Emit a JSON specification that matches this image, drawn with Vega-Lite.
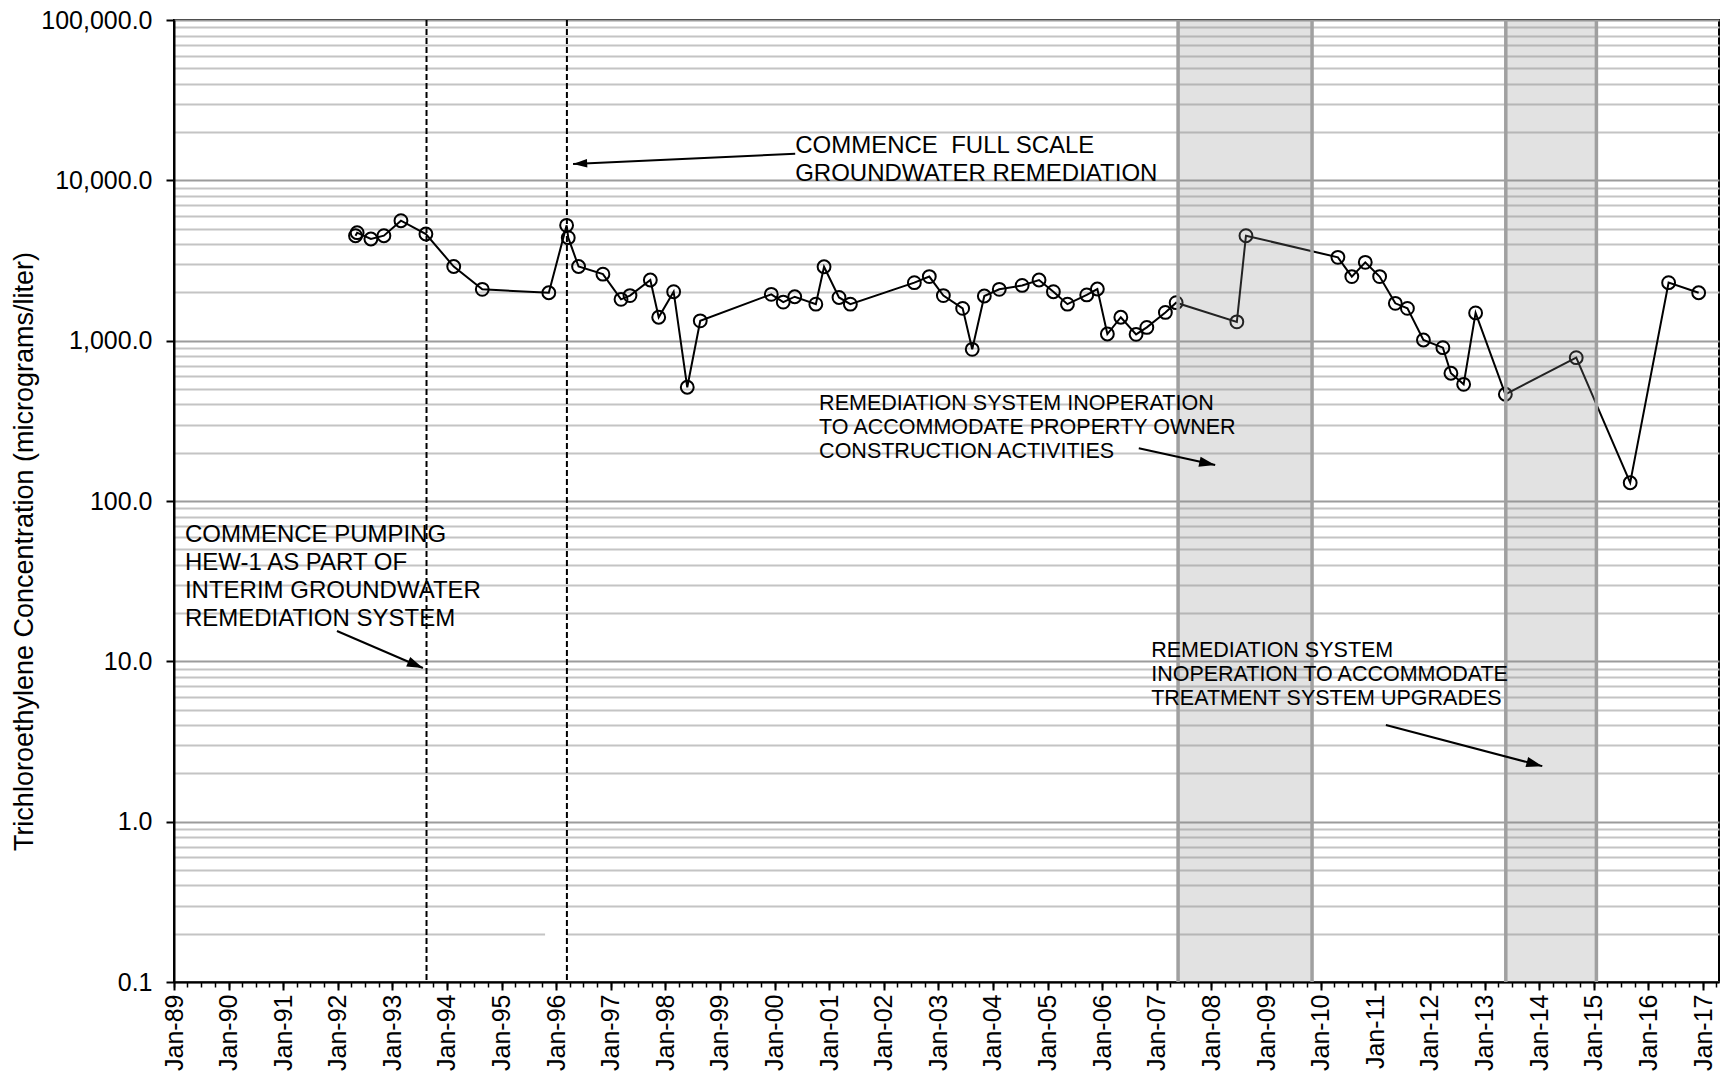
{
  "$schema": "https://vega.github.io/schema/vega-lite/v6.json",
  "width": 1545,
  "height": 962,
  "autosize": {"type": "none"},
  "padding": {"left": 174, "top": 20, "right": 3, "bottom": 102},
  "background": "white",
  "config": {
    "font": "Liberation Sans",
    "view": {"stroke": "black", "strokeWidth": 2},
    "axis": {"labelColor": "black", "titleColor": "black", "labelFont": "Liberation Sans", "titleFont": "Liberation Sans"}
  },
  "datasets": {
    "tce": [
      {"date": "1992-04-29", "tce": 4515},
      {"date": "1992-05-10", "tce": 4715},
      {"date": "1992-08-10", "tce": 4305},
      {"date": "1992-11-05", "tce": 4515},
      {"date": "1993-02-27", "tce": 5600},
      {"date": "1993-08-13", "tce": 4625},
      {"date": "1994-02-15", "tce": 2900},
      {"date": "1994-08-25", "tce": 2090},
      {"date": "1995-11-13", "tce": 1990},
      {"date": "1996-03-11", "tce": 5240},
      {"date": "1996-03-22", "tce": 4390},
      {"date": "1996-05-30", "tce": 2900},
      {"date": "1996-11-09", "tce": 2600},
      {"date": "1997-03-10", "tce": 1810},
      {"date": "1997-05-09", "tce": 1910},
      {"date": "1997-09-22", "tce": 2390},
      {"date": "1997-11-17", "tce": 1400},
      {"date": "1998-02-25", "tce": 2020},
      {"date": "1998-05-27", "tce": 512},
      {"date": "1998-08-22", "tce": 1330},
      {"date": "1999-12-10", "tce": 1945},
      {"date": "2000-02-28", "tce": 1740},
      {"date": "2000-05-15", "tce": 1880},
      {"date": "2000-10-03", "tce": 1690},
      {"date": "2000-11-27", "tce": 2890},
      {"date": "2001-03-07", "tce": 1860},
      {"date": "2001-05-22", "tce": 1690},
      {"date": "2002-07-24", "tce": 2300},
      {"date": "2002-11-01", "tce": 2510},
      {"date": "2003-02-03", "tce": 1910},
      {"date": "2003-06-12", "tce": 1590},
      {"date": "2003-08-15", "tce": 883},
      {"date": "2003-11-04", "tce": 1900},
      {"date": "2004-02-12", "tce": 2090},
      {"date": "2004-07-14", "tce": 2210},
      {"date": "2004-11-04", "tce": 2390},
      {"date": "2005-02-08", "tce": 2020},
      {"date": "2005-05-13", "tce": 1690},
      {"date": "2005-09-19", "tce": 1930},
      {"date": "2005-11-29", "tce": 2100},
      {"date": "2006-02-04", "tce": 1100},
      {"date": "2006-05-05", "tce": 1400},
      {"date": "2006-08-15", "tce": 1095},
      {"date": "2006-10-26", "tce": 1210},
      {"date": "2007-02-27", "tce": 1500},
      {"date": "2007-05-10", "tce": 1725},
      {"date": "2008-06-19", "tce": 1310},
      {"date": "2008-08-19", "tce": 4515},
      {"date": "2010-04-26", "tce": 3310},
      {"date": "2010-07-28", "tce": 2510},
      {"date": "2010-10-26", "tce": 3080},
      {"date": "2011-01-30", "tce": 2510},
      {"date": "2011-05-15", "tce": 1710},
      {"date": "2011-08-04", "tce": 1590},
      {"date": "2011-11-19", "tce": 1010},
      {"date": "2012-03-28", "tce": 904},
      {"date": "2012-05-21", "tce": 626},
      {"date": "2012-08-14", "tce": 534},
      {"date": "2012-11-02", "tce": 1490},
      {"date": "2013-05-20", "tce": 463},
      {"date": "2014-09-06", "tce": 783},
      {"date": "2015-09-02", "tce": 130},
      {"date": "2016-05-16", "tce": 2300},
      {"date": "2016-12-03", "tce": 1990}
    ],
    "dashes": [{"date": "1993-08-17"}, {"date": "1996-03-13"}],
    "shades": [
      {"start": "2007-05-23", "end": "2009-11-04"},
      {"start": "2013-05-23", "end": "2015-01-19"}
    ],
    "patch": [{"x1": "1995-10-19", "x2": "1996-03-12", "y1": 0.165, "y2": 0.21}],
    "arrows": [
      {"id": 1, "x1": "2000-05-18", "y1": 14660, "x2": "1996-04-23", "y2": 12643},
      {"id": 2, "x1": "2006-09-02", "y1": 213, "x2": "2008-01-26", "y2": 167.5},
      {"id": 3, "x1": "1991-12-27", "y1": 15.46, "x2": "1993-07-24", "y2": 9.09},
      {"id": 4, "x1": "2011-03-13", "y1": 4.01, "x2": "2014-01-22", "y2": 2.22}
    ],
    "notesBig": [
      {"date": "2000-05-18", "value": 19450, "label": "COMMENCE\u00a0 FULL SCALE\nGROUNDWATER REMEDIATION"},
      {"date": "1989-03-15", "value": 72.6, "label": "COMMENCE PUMPING\nHEW-1 AS PART OF\nINTERIM GROUNDWATER\nREMEDIATION SYSTEM"}
    ],
    "notesSmall": [
      {"date": "2000-10-25", "value": 472, "label": "REMEDIATION SYSTEM INOPERATION\nTO ACCOMMODATE PROPERTY OWNER\nCONSTRUCTION ACTIVITIES"},
      {"date": "2006-11-24", "value": 13.55, "label": "REMEDIATION SYSTEM\nINOPERATION TO ACCOMMODATE\nTREATMENT SYSTEM UPGRADES"}
    ]
  },
  "resolve": {"axis": {"x": "independent", "y": "independent"}},
  "layer": [
    {
      "data": {"name": "tce"},
      "mark": {"type": "line", "color": "black", "strokeWidth": 2},
      "encoding": {
        "x": {
          "field": "date", "type": "temporal",
          "scale": {"type": "utc", "domain": [{"year": 1989, "month": 1, "date": 1, "utc": true}, {"year": 2017, "month": 4, "date": 18, "utc": true}], "nice": false},
          "axis": {
            "orient": "bottom", "tickCount": {"interval": "year", "step": 1}, "format": "%b-%y",
            "labelAngle": 270, "labelAlign": "right", "labelBaseline": "middle", "labelFontSize": 25,
            "labelPadding": 4, "labelOverlap": false, "labelFlush": false, "labelBound": false,
            "tickColor": "black", "tickSize": 8, "tickWidth": 2,
            "domainColor": "black", "domainWidth": 2, "grid": false, "title": null
          }
        },
        "y": {
          "field": "tce", "type": "quantitative",
          "scale": {"type": "log", "domain": [0.1, 100000], "nice": false},
          "axis": {
            "orient": "left", "values": [0.1, 1, 10, 100, 1000, 10000, 100000], "format": ",.1f",
            "grid": true, "gridColor": "#9c9c9c", "gridWidth": 2,
            "tickColor": "black", "tickSize": 8, "tickWidth": 2,
            "domainColor": "black", "domainWidth": 2,
            "labelFontSize": 25, "labelPadding": 14, "labelBound": false, "labelFlush": false, "labelOverlap": false,
            "title": "Trichloroethylene Concentration (micrograms/liter)",
            "titleFontSize": 27, "titleFontWeight": "normal", "titleAngle": 270,
            "titleX": -150, "titleY": 531, "titleAlign": "center", "titleBaseline": "middle"
          }
        }
      }
    },
    {
      "data": {"name": "tce"},
      "mark": {"type": "point", "shape": "circle", "filled": false, "size": 165, "stroke": "black", "strokeWidth": 2, "opacity": 1},
      "encoding": {
        "x": {
          "field": "date", "type": "temporal",
          "scale": {"type": "utc", "domain": [{"year": 1989, "month": 1, "date": 1, "utc": true}, {"year": 2017, "month": 4, "date": 18, "utc": true}], "nice": false},
          "axis": {"orient": "bottom", "tickCount": {"interval": "month", "step": 3}, "labels": false, "domain": false, "grid": false, "tickSize": 5, "tickWidth": 1.5, "tickColor": "black", "title": null}
        },
        "y": {
          "field": "tce", "type": "quantitative",
          "scale": {"type": "log", "domain": [0.1, 100000], "nice": false},
          "axis": {
            "orient": "left",
            "values": [0.2, 0.3, 0.4, 0.5, 0.6, 0.7, 0.8, 0.9, 2, 3, 4, 5, 6, 7, 8, 9, 20, 30, 40, 50, 60, 70, 80, 90, 200, 300, 400, 500, 600, 700, 800, 900, 2000, 3000, 4000, 5000, 6000, 7000, 8000, 9000, 20000, 30000, 40000, 50000, 60000, 70000, 80000, 90000],
            "grid": true, "gridColor": "#c4c4c4", "gridWidth": 2,
            "labels": false, "ticks": false, "domain": false, "title": null
          }
        }
      }
    },
    {
      "data": {"name": "shades"},
      "mark": {"type": "rect", "fill": "#8c8c8c", "opacity": 0.25},
      "encoding": {
        "x": {"field": "start", "type": "temporal", "axis": null},
        "x2": {"field": "end"}
      }
    },
    {
      "data": {"name": "shades"},
      "mark": {"type": "rule", "color": "#a0a0a0", "strokeWidth": 3.5},
      "encoding": {"x": {"field": "start", "type": "temporal", "axis": null}}
    },
    {
      "data": {"name": "shades"},
      "mark": {"type": "rule", "color": "#a0a0a0", "strokeWidth": 3.5},
      "encoding": {"x": {"field": "end", "type": "temporal", "axis": null}}
    },
    {
      "data": {"name": "patch"},
      "mark": {"type": "rect", "fill": "white"},
      "encoding": {
        "x": {"field": "x1", "type": "temporal", "axis": null},
        "x2": {"field": "x2"},
        "y": {"field": "y1", "type": "quantitative", "axis": null},
        "y2": {"field": "y2"}
      }
    },
    {
      "data": {"name": "dashes"},
      "mark": {"type": "rule", "color": "black", "strokeWidth": 2, "strokeDash": [6, 3]},
      "encoding": {"x": {"field": "date", "type": "temporal", "axis": null}}
    },
    {
      "data": {"name": "arrows"},
      "mark": {"type": "rule", "color": "black", "strokeWidth": 2},
      "encoding": {
        "x": {"field": "x1", "type": "temporal", "axis": null},
        "y": {"field": "y1", "type": "quantitative", "axis": null},
        "x2": {"field": "x2"},
        "y2": {"field": "y2"}
      }
    },
    {
      "data": {"name": "arrows"},
      "transform": [{"filter": "datum.id == 1"}],
      "mark": {"type": "point", "shape": "M0,0L0.6,2L-0.6,2Z", "filled": true, "color": "black", "size": 200, "angle": 267, "opacity": 1},
      "encoding": {
        "x": {"field": "x2", "type": "temporal", "axis": null},
        "y": {"field": "y2", "type": "quantitative", "axis": null}
      }
    },
    {
      "data": {"name": "arrows"},
      "transform": [{"filter": "datum.id == 2"}],
      "mark": {"type": "point", "shape": "M0,0L0.65,2L-0.65,2Z", "filled": true, "color": "black", "size": 256, "angle": 102, "opacity": 1},
      "encoding": {
        "x": {"field": "x2", "type": "temporal", "axis": null},
        "y": {"field": "y2", "type": "quantitative", "axis": null}
      }
    },
    {
      "data": {"name": "arrows"},
      "transform": [{"filter": "datum.id == 3"}],
      "mark": {"type": "point", "shape": "M0,0L0.65,2L-0.65,2Z", "filled": true, "color": "black", "size": 256, "angle": 113, "opacity": 1},
      "encoding": {
        "x": {"field": "x2", "type": "temporal", "axis": null},
        "y": {"field": "y2", "type": "quantitative", "axis": null}
      }
    },
    {
      "data": {"name": "arrows"},
      "transform": [{"filter": "datum.id == 4"}],
      "mark": {"type": "point", "shape": "M0,0L0.65,2L-0.65,2Z", "filled": true, "color": "black", "size": 256, "angle": 105, "opacity": 1},
      "encoding": {
        "x": {"field": "x2", "type": "temporal", "axis": null},
        "y": {"field": "y2", "type": "quantitative", "axis": null}
      }
    },
    {
      "data": {"name": "notesBig"},
      "mark": {"type": "text", "align": "left", "baseline": "top", "fontSize": 24, "lineHeight": 28, "lineBreak": "\n", "font": "Liberation Sans", "color": "black"},
      "encoding": {
        "x": {"field": "date", "type": "temporal", "axis": null},
        "y": {"field": "value", "type": "quantitative", "axis": null},
        "text": {"field": "label", "type": "nominal"}
      }
    },
    {
      "data": {"name": "notesSmall"},
      "mark": {"type": "text", "align": "left", "baseline": "top", "fontSize": 21.5, "lineHeight": 24, "lineBreak": "\n", "font": "Liberation Sans", "color": "black"},
      "encoding": {
        "x": {"field": "date", "type": "temporal", "axis": null},
        "y": {"field": "value", "type": "quantitative", "axis": null},
        "text": {"field": "label", "type": "nominal"}
      }
    }
  ]
}
